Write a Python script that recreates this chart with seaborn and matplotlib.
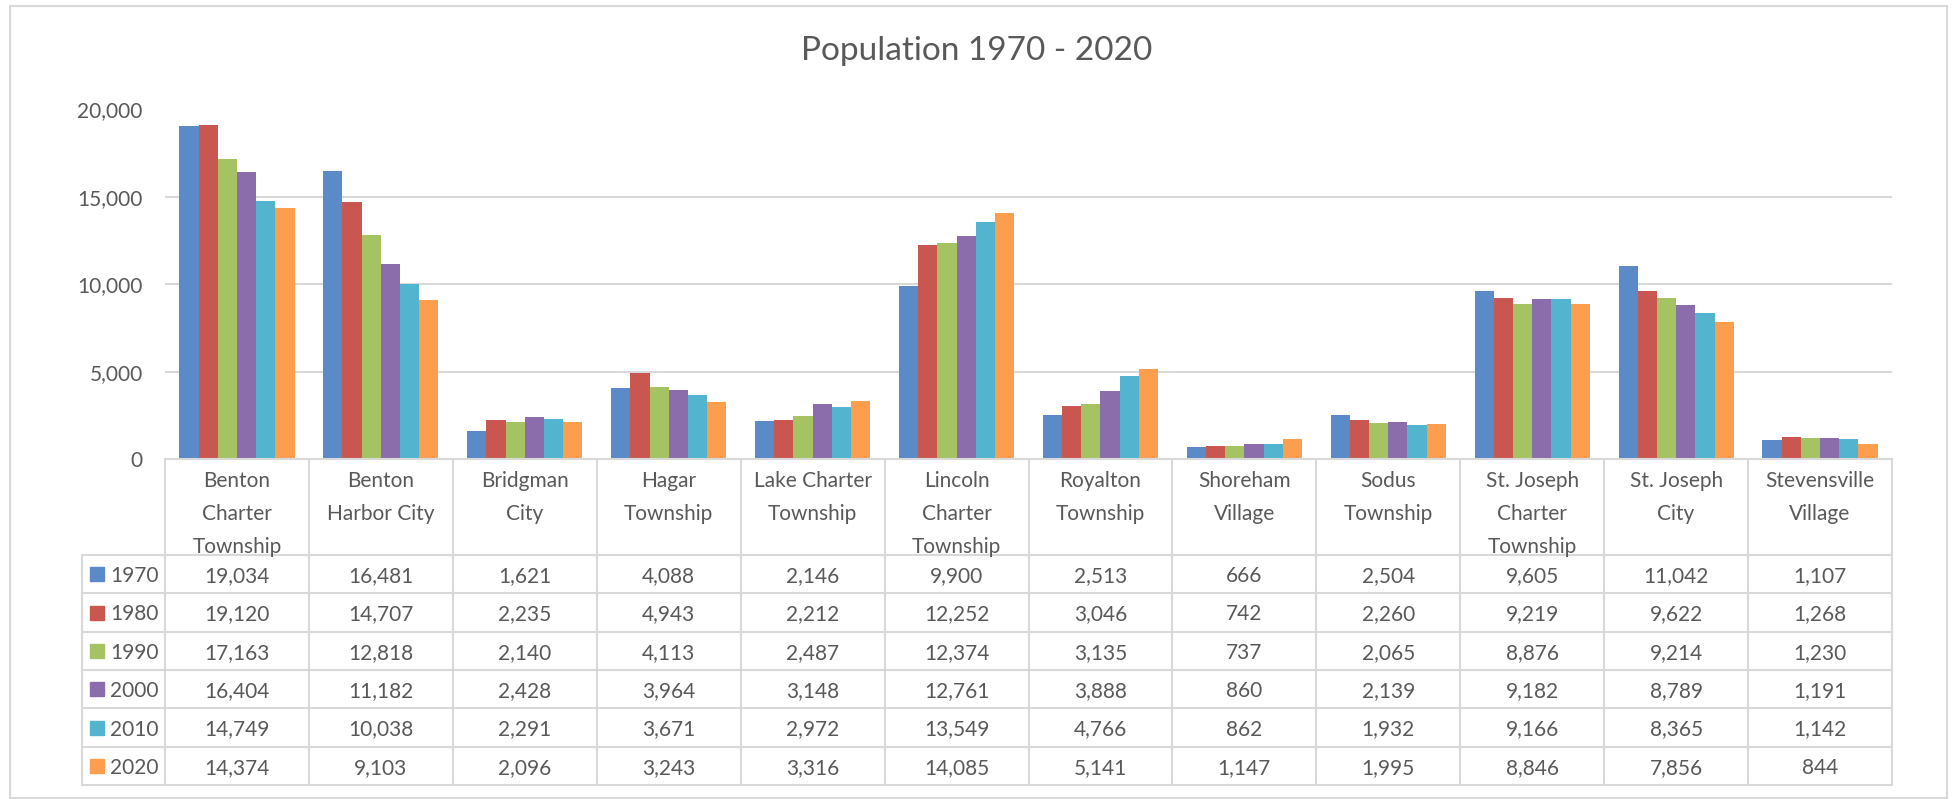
import seaborn as sns
import matplotlib.pyplot as plt
from matplotlib.patches import Rectangle
import pandas as pd

places = ['Benton Charter Township', 'Benton Harbor City', 'Bridgman City',
          'Hagar Township', 'Lake Charter Township', 'Lincoln Charter Township',
          'Royalton Township', 'Shoreham Village', 'Sodus Township',
          'St. Joseph Charter Township', 'St. Joseph City', 'Stevensville Village']
header_labels = ['Benton\nCharter\nTownship', 'Benton\nHarbor City', 'Bridgman\nCity',
                 'Hagar\nTownship', 'Lake Charter\nTownship', 'Lincoln\nCharter\nTownship',
                 'Royalton\nTownship', 'Shoreham\nVillage', 'Sodus\nTownship',
                 'St. Joseph\nCharter\nTownship', 'St. Joseph\nCity', 'Stevensville\nVillage']
years = ['1970', '1980', '1990', '2000', '2010', '2020']

pop_1970 = [19034, 16481, 1621, 4088, 2146, 9900, 2513, 666, 2504, 9605, 11042, 1107]
pop_1980 = [19120, 14707, 2235, 4943, 2212, 12252, 3046, 742, 2260, 9219, 9622, 1268]
pop_1990 = [17163, 12818, 2140, 4113, 2487, 12374, 3135, 737, 2065, 8876, 9214, 1230]
pop_2000 = [16404, 11182, 2428, 3964, 3148, 12761, 3888, 860, 2139, 9182, 8789, 1191]
pop_2010 = [14749, 10038, 2291, 3671, 2972, 13549, 4766, 862, 1932, 9166, 8365, 1142]
pop_2020 = [14374, 9103, 2096, 3243, 3316, 14085, 5141, 1147, 1995, 8846, 7856, 844]
series = [pop_1970, pop_1980, pop_1990, pop_2000, pop_2010, pop_2020]

colors = ['#5A8AC8', '#C9574F', '#A5C362', '#8A6DAA', '#53B4CF', '#FD9D4E']
text_color = '#595959'
line_color = '#D9D9D9'

sns.set_theme(style='white')
plt.rcParams['font.family'] = ['Lato', 'DejaVu Sans']

W, H = 1952, 799
fig = plt.figure(figsize=(W / 100, H / 100), dpi=100)


def box(left, top, right, bottom):
    return [left / W, 1 - bottom / H, (right - left) / W, (bottom - top) / H]


ax = fig.add_axes(box(165, 109.5, 1892, 459))
tab = fig.add_axes(box(165, 459, 1892, 785))

df = pd.DataFrame([(p, y, v) for y, vals in zip(years, series) for p, v in zip(places, vals)],
                  columns=['place', 'year', 'population'])
sns.barplot(data=df, x='place', y='population', hue='year', palette=colors,
            saturation=1, width=0.8, gap=0, errorbar=None, linewidth=0,
            legend=False, ax=ax)

ax.set_xlim(-0.5, 11.5)
ax.set_ylim(0, 20000)
ax.set_yticks(range(0, 20001, 5000))
ax.set_yticklabels([f'{v:,}' for v in range(0, 20001, 5000)])
ax.grid(axis='y', color=line_color, lw=1.5)
ax.set_axisbelow(True)
for s in ax.spines.values():
    s.set_visible(False)
ax.tick_params(axis='y', length=0, pad=16, labelsize=15, labelcolor=text_color)
ax.tick_params(axis='x', bottom=False, labelbottom=False)
ax.set_xlabel('')
ax.set_ylabel('')

# data table under the chart (y in pixels, downwards)
cat_px = (1892 - 165) / 12
header_h = 96
row_h = 230 / 6


def px(p):
    return -0.5 + (p - 165) / cat_px


tab.set_xlim(-0.5, 11.5)
tab.set_ylim(326, 0)
tab.axis('off')
kw = dict(color=line_color, lw=1.5, clip_on=False)
tab.plot([-0.5, 11.5], [0, 0], **kw)
for i in range(13):
    tab.plot([i - 0.5, i - 0.5], [0, 326], **kw)
for k in range(7):
    y = header_h + k * row_h
    tab.plot([px(82), 11.5], [y, y], **kw)
tab.plot([px(82), px(82)], [header_h, 326], **kw)

for i, lab in enumerate(header_labels):
    tab.text(i, 12, lab, ha='center', va='top', fontsize=15, color=text_color,
             linespacing=1.8, multialignment='center')

for k, (year, vals, c) in enumerate(zip(years, series, colors)):
    yc = header_h + (k + 0.5) * row_h
    tab.add_patch(Rectangle((px(90), yc - 7), 14 / cat_px, 14, color=c, clip_on=False))
    tab.text(px(110), yc, year, ha='left', va='center_baseline', fontsize=15, color=text_color)
    for i, v in enumerate(vals):
        tab.text(i, yc, f'{v:,}', ha='center', va='center_baseline', fontsize=15, color=text_color)

fig.text(977 / W, 1 - 60 / H, 'Population 1970 - 2020', ha='center', va='baseline',
         fontsize=24, color=text_color)
fig.add_artist(Rectangle((10 / W, 1 - 798 / H), 1937 / W, 792.5 / H, transform=fig.transFigure,
                         fill=False, ec=line_color, lw=1.5))

fig.savefig('out.png', dpi=100, facecolor='white')
